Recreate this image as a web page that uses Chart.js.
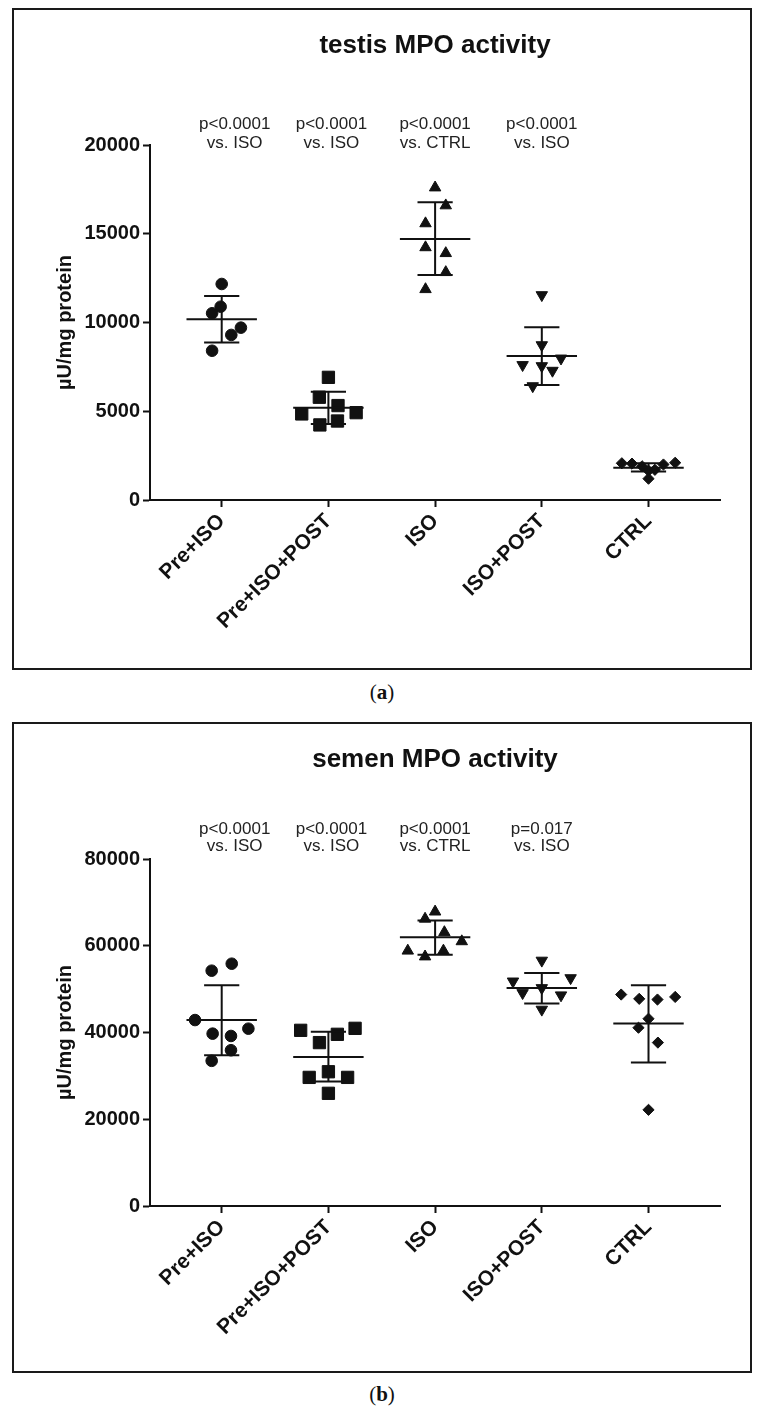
<!DOCTYPE html>
<html><head><meta charset="utf-8">
<script src="https://cdn.jsdelivr.net/npm/chart.js@4.4.1/dist/chart.umd.min.js"></script>
<style>
html,body{margin:0;padding:0;background:#fff;}
body{width:761px;height:1421px;position:relative;overflow:hidden;}
.panel{position:absolute;left:12px;width:740px;box-sizing:border-box;border:2px solid #1a1a1a;}
canvas{position:absolute;left:12px;}
.cap{position:absolute;left:0;width:764px;text-align:center;font-family:"Liberation Serif","DejaVu Serif",serif;font-size:21px;line-height:26px;color:#111;}
</style></head><body>
<div class="panel" style="top:8px;height:662px"></div>
<canvas id="ca" width="740" height="662" style="top:8px"></canvas>
<div class="cap" style="top:679px">(<b>a</b>)</div>
<div class="panel" style="top:722px;height:651px"></div>
<canvas id="cb" width="740" height="651" style="top:722px"></canvas>
<div class="cap" style="top:1381px">(<b>b</b>)</div>
<script>
const categories = ['Pre+ISO', 'Pre+ISO+POST', 'ISO', 'ISO+POST', 'CTRL'];
const testisYTicks = [0, 5000, 10000, 15000, 20000];
const semenYTicks = [0, 20000, 40000, 60000, 80000];

// (a) testis MPO activity, µU/mg protein
const testisPreIso      = [12170, 10890, 10520, 9710, 9300, 8410];
const testisPreIsoJit   = [0, -0.01, -0.09, 0.18, 0.09, -0.09];
const testisPreIsoPost  = [6910, 5790, 5320, 4850, 4920, 4230, 4450];
const testisPreIsoPostJit = [0, -0.085, 0.09, -0.25, 0.26, -0.08, 0.085];
const testisIso         = [17600, 16590, 15580, 14230, 13900, 12830, 11870];
const testisIsoJit      = [0, 0.1, -0.09, -0.09, 0.1, 0.1, -0.09];
const testisIsoPost     = [11550, 8730, 7980, 7610, 7550, 7290, 6420];
const testisIsoPostJit  = [0, 0, 0.18, -0.18, 0, 0.1, -0.085];
const testisCtrl        = [2070, 2050, 1900, 1650, 1700, 2000, 2100, 1200];
const testisCtrlJit     = [-0.25, -0.155, -0.06, 0, 0.06, 0.14, 0.25, 0];
const testisMean   = [10180, 5200, 14700, 8110, 1820];
const testisSdHigh = [11490, 6100, 16770, 9730, 2070];
const testisSdLow  = [8880, 4280, 12680, 6480, 1600];
const testisPLabels = [['p<0.0001', 'vs. ISO'], ['p<0.0001', 'vs. ISO'], ['p<0.0001', 'vs. CTRL'], ['p<0.0001', 'vs. ISO']];

// (b) semen MPO activity, µU/mg protein
const semenPreIso      = [55860, 54250, 42870, 40880, 39730, 39200, 35910, 33470];
const semenPreIsoJit   = [0.094, -0.094, -0.25, 0.25, -0.085, 0.087, 0.087, -0.094];
const semenPreIsoPost  = [40500, 40960, 39580, 37670, 30950, 29650, 29650, 25980];
const semenPreIsoPostJit = [-0.26, 0.25, 0.084, -0.084, 0, -0.18, 0.18, 0];
const semenIso         = [67850, 66200, 63100, 61000, 58840, 58840, 57500];
const semenIsoJit      = [0, -0.094, 0.087, 0.25, -0.256, 0.078, -0.094];
const semenIsoPost     = [56600, 51800, 52560, 50270, 49120, 48600, 45300];
const semenIsoPostJit  = [0, -0.27, 0.27, 0, -0.18, 0.18, 0];
const semenCtrl        = [48750, 47760, 47600, 48200, 43170, 41100, 37670, 22170];
const semenCtrlJit     = [-0.256, -0.087, 0.084, 0.25, 0, -0.094, 0.088, 0];
const semenMean   = [42870, 34380, 61960, 50270, 42100];
const semenSdHigh = [50900, 40200, 65800, 53700, 50900];
const semenSdLow  = [34770, 28700, 57900, 46700, 33100];
const semenPLabels = [['p<0.0001', 'vs. ISO'], ['p<0.0001', 'vs. ISO'], ['p<0.0001', 'vs. CTRL'], ['p=0.017', 'vs. ISO']];

Chart.defaults.font.family = '"Liberation Sans", Arial, Helvetica, sans-serif';
const INK = '#111';

const markerStyles = [
  {pointStyle: 'circle', radius: 5.8, rotation: 0},
  {pointStyle: 'rect', radius: 8.7, rotation: 0},
  {pointStyle: 'triangle', radius: 6.6, rotation: 0},
  {pointStyle: 'triangle', radius: 6.6, rotation: 180},
  {pointStyle: 'rectRot', radius: 5.6, rotation: 0}
];

function errorSegments(mean, hi, lo) {
  const d = [];
  const gap = () => ({x: null, y: null});
  mean.forEach((m, i) => {
    d.push({x: i - 0.33, y: m}, {x: i + 0.33, y: m}, gap(),
           {x: i - 0.165, y: hi[i]}, {x: i + 0.165, y: hi[i]}, gap(),
           {x: i - 0.165, y: lo[i]}, {x: i + 0.165, y: lo[i]}, gap(),
           {x: i, y: lo[i]}, {x: i, y: hi[i]}, gap());
  });
  return d;
}

const pvalPlugin = {
  id: 'pvals',
  afterDraw(chart, args, opts) {
    const ctx = chart.ctx, xs = chart.scales.x;
    ctx.save();
    ctx.fillStyle = '#222';
    ctx.font = '17px "Liberation Sans", Arial, sans-serif';
    ctx.textAlign = 'center';
    ctx.textBaseline = 'alphabetic';
    opts.labels.forEach((lines, i) => {
      const x = xs.getPixelForValue(i) + opts.dx[i];
      lines.forEach((t, j) => ctx.fillText(t, x, opts.baselines[j]));
    });
    ctx.restore();
  }
};

function build(id, groups, jitters, mean, hi, lo, yTicks, title, xHeight, pLabels, baselines) {
  const datasets = [{
    data: errorSegments(mean, hi, lo), showLine: true, spanGaps: false,
    borderColor: INK, borderWidth: 2, pointRadius: 0, pointHoverRadius: 0, fill: false
  }];
  groups.forEach((vals, i) => {
    const m = markerStyles[i];
    datasets.push({
      data: vals.map((v, k) => ({x: i + jitters[i][k], y: v})),
      pointStyle: m.pointStyle, rotation: m.rotation, pointRadius: m.radius,
      pointHoverRadius: m.radius, backgroundColor: INK, borderColor: INK, borderWidth: 1, showLine: false
    });
  });
  const axisGrid = {drawOnChartArea: false, drawTicks: true, tickLength: 7, tickWidth: 2, tickColor: INK};
  const axisBorder = {display: true, width: 2, color: INK};
  return new Chart(document.getElementById(id), {
    type: 'scatter',
    data: {datasets},
    options: {
      responsive: false, animation: false, devicePixelRatio: 1,
      layout: {padding: {left: 0, right: 32, top: 0, bottom: 0}},
      plugins: {
        legend: {display: false}, tooltip: {enabled: false},
        title: {display: true, text: title, fullSize: false, color: INK,
                font: {size: 26, weight: 'bold'}, padding: {top: 22, bottom: 83.8}},
        pvals: {labels: pLabels, dx: [13, 3, 0, 0], baselines}
      },
      scales: {
        x: {
          type: 'linear', min: -0.672, max: 4.67,
          afterBuildTicks: s => { s.ticks = categories.map((c, i) => ({value: i})); },
          afterFit: s => { s.height = xHeight; },
          ticks: {callback: v => categories[v], autoSkip: false, minRotation: 45, maxRotation: 45,
                  font: {size: 21, weight: 'bold'}, color: INK, padding: 2},
          grid: axisGrid, border: axisBorder
        },
        y: {
          min: yTicks[0], max: yTicks[yTicks.length - 1],
          afterBuildTicks: s => { s.ticks = yTicks.map(v => ({value: v})); },
          afterFit: s => { s.width = 138; },
          ticks: {callback: v => String(v), font: {size: 20, weight: 'bold'}, color: INK, padding: 3},
          grid: axisGrid, border: axisBorder,
          title: {display: true, text: 'µU/mg protein', color: INK,
                  font: {size: 20, weight: 'bold'}, padding: {top: 41, bottom: 0}}
        }
      }
    },
    plugins: [pvalPlugin]
  });
}

build('ca',
  [testisPreIso, testisPreIsoPost, testisIso, testisIsoPost, testisCtrl],
  [testisPreIsoJit, testisPreIsoPostJit, testisIsoJit, testisIsoPostJit, testisCtrlJit],
  testisMean, testisSdHigh, testisSdLow, testisYTicks, 'testis MPO activity', 170,
  testisPLabels, [120.5, 140]);

build('cb',
  [semenPreIso, semenPreIsoPost, semenIso, semenIsoPost, semenCtrl],
  [semenPreIsoJit, semenPreIsoPostJit, semenIsoJit, semenIsoPostJit, semenCtrlJit],
  semenMean, semenSdHigh, semenSdLow, semenYTicks, 'semen MPO activity', 167,
  semenPLabels, [112, 129]);
</script>
</body></html>
